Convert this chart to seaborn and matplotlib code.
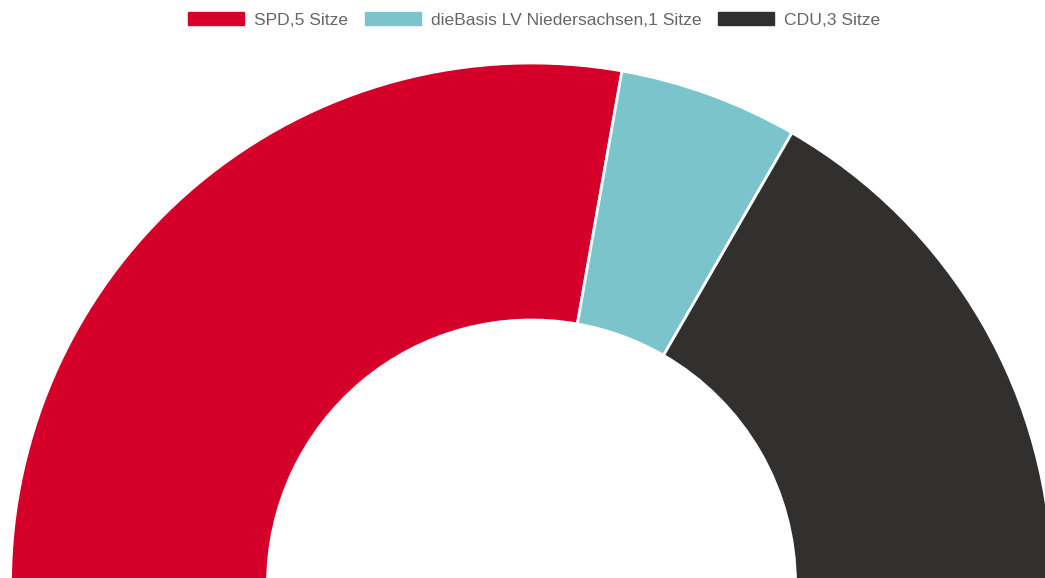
import matplotlib
matplotlib.use("Agg")
import matplotlib.pyplot as plt
import seaborn as sns
from matplotlib.patches import Patch

# Seat distribution
parties = ["SPD", "dieBasis LV Niedersachsen", "CDU"]
seats = [5, 1, 3]
party_colors = ["#D50029", "#7BC4CC", "#31302F"]

sns.set_theme(style="white")
plt.rcParams["font.family"] = ["Liberation Sans", "DejaVu Sans"]

fig = plt.figure(figsize=(10.45, 5.78), dpi=100)
ax = fig.add_axes([0, 0, 1, 1])

# half doughnut: add an invisible lower half equal to total seats
values = seats + [sum(seats)]
colors = sns.color_palette(party_colors) + [(1, 1, 1, 0)]
wedges, _ = ax.pie(values, colors=colors, startangle=180, counterclock=False,
                   center=(531.5, -6), radius=521,
                   wedgeprops=dict(width=257, edgecolor="white", linewidth=2))
wedges[-1].set_visible(False)

# axes in pixel units, centre of the ring sits just below the bottom edge
ax.set_xlim(0, 1045)
ax.set_ylim(0, 578)
ax.set_aspect("auto")
ax.axis("off")

handles = [Patch(facecolor=c, edgecolor=c) for c in party_colors]
labels = [f"{p},{s} Sitze" for p, s in zip(parties, seats)]
fig.legend(handles, labels, loc="center", bbox_to_anchor=(534 / 1045, 1 - 20 / 578),
           ncol=3, frameon=False, fontsize=12.6, labelcolor="#666666",
           handlelength=3.2, handleheight=0.79, handletextpad=0.57, columnspacing=0.95)

fig.savefig("out.png", dpi=100)
